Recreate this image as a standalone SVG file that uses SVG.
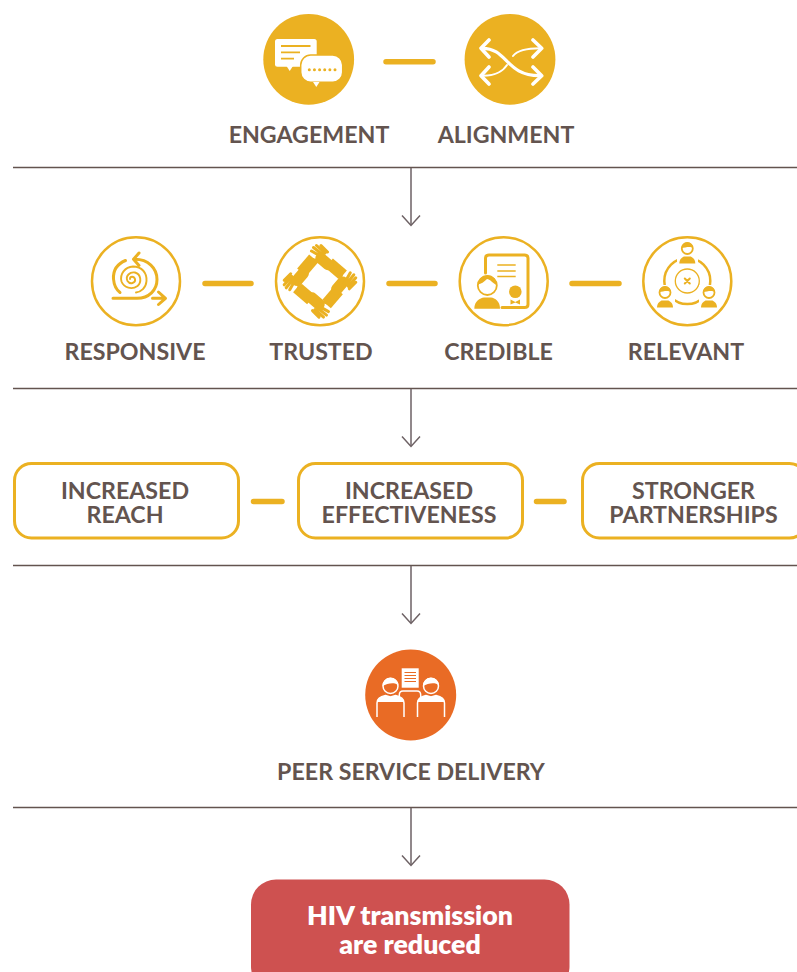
<svg xmlns="http://www.w3.org/2000/svg" width="797" height="972" viewBox="0 0 797 972">
<style>
text{font-family:"Lato","Liberation Sans",sans-serif;font-weight:700;fill:#63544f;text-anchor:middle;font-size:23.2px}
.hd{fill:#fff;font-size:26.700px;font-weight:800}
.rule{stroke:#63544f;stroke-width:1.3;fill:none}
.arr{stroke:#6e6265;stroke-width:1.500;fill:none}
.bar{stroke:#ebb122;stroke-width:5.5;stroke-linecap:round;fill:none}
.ring{fill:#fff;stroke:#ebb122;stroke-width:2.5}
.box{fill:#fff;stroke:#ebb122;stroke-width:3}
.y{fill:#ebb122}.w{fill:#fff}
.ly{stroke:#ebb122;fill:none;stroke-linecap:round;stroke-linejoin:round}
.lw{stroke:#fff;fill:none;stroke-linecap:round;stroke-linejoin:round}
.lo{stroke:#e96b25;fill:none}
</style>
<defs>
<path id="chev" class="arr" d="M-9 -10 0 0 9 -10"/>
<g id="hand">
<path d="M343 275 329 263" stroke="#ebb122" stroke-width="12" fill="none"/>
<path d="M327 262 319 255" stroke="#fff" stroke-width="14" fill="none"/>
<path d="M328 264.500 321 258.500" stroke="#ebb122" stroke-width="11.500" stroke-linecap="round" fill="none"/>
<path d="M322 257 311.500 251M323 255 313.500 247.500M325 253 316.500 245.500M327.500 252 321 245.500M320 262 312.500 259.500" class="ly" stroke-width="3"/>
</g>
<g id="person">
<circle cx="0" cy="0" r="5.500" fill="#fff" stroke="#ebb122" stroke-width="1.800"/>
<path d="M-5.800 -0.500A5.800 5.800 0 0 1 5.800 -0.500C3 -2.500 -2 -1 -5.800 -0.500Z" class="y"/>
<path d="M-8 15C-8 10-4 8-3 8H3C4 8 8 10 8 15Z" class="y"/>
</g>
<g id="po">
<circle cx="0" cy="0" r="7.500" fill="#e96b25" stroke="#fff" stroke-width="1.500"/>
<path d="M-8 0A8 8 0 0 1 8 -1C4 -4-3-3-8 0Z" class="w"/>
<path d="M-13.500 31V17C-13.500 12.500-10 10.500-5 9.500L0 11 5 9.500C10 10.500 13.500 12.500 13.500 17V31" fill="#e96b25" stroke="#fff" stroke-width="1.500"/>
<path d="M-13.500 16C-13.500 12.500-10 10.500-5 9.500L0 11 5 9.500C10 10.500 13.500 12.500 13.500 16Z" class="w"/>
</g>
</defs>
<g id="connectors">
<path class="rule" d="M13 167.500H797M13 388.500H797M13 565.500H797M13 807.500H797"/>
<path class="arr" d="M411 168V225M411 389V446M411 566V623M411 808V865"/>
<use href="#chev" x="411" y="225.500"/>
<use href="#chev" x="411" y="446.500"/>
<use href="#chev" x="411" y="623.500"/>
<use href="#chev" x="411" y="865.500"/>
<path class="bar" d="M386 61.700H433M205 283.500H251M389 283.500H435M572 283.500H619M253.500 501.500H282M536.500 501.500H564"/>
</g>
<g id="engagement">
<circle cx="308.700" cy="59.300" r="45.400" class="y"/>
<rect x="275" y="39" width="41.700" height="27.700" rx="2.500" class="w"/>
<path d="M286.500 66 289.700 71 293 66Z" class="w"/>
<path d="M281 46H310.500M281 52.300H300M281 58.700H294" stroke="#ebb122" stroke-width="1.800" fill="none"/>
<rect x="300.700" y="55" width="42" height="27.300" rx="10" class="w" stroke="#ebb122" stroke-width="1.500"/>
<path d="M313 82 316.300 87 319.500 82Z" class="w"/>
<path d="M309.300 69.700H335" stroke="#ebb122" stroke-width="3" stroke-linecap="round" stroke-dasharray="0 5.140" fill="none"/>
<text x="309" y="143">ENGAGEMENT</text>
</g>
<g id="alignment">
<circle cx="510" cy="59.300" r="45.400" class="y"/>
<path class="lw" stroke-width="3.600" d="M489 40 481 48.300 489 57M533 40 541.700 48.300 533 57M489 67 481 75.700 489 84M533 67 541.700 75.700 533 84"/>
<path class="lw" stroke-width="3.200" d="M482 48.300C508 48 505 76 540 75.700"/>
<path class="lw" stroke-width="2" d="M482 75.700C497 76 503 71 507 65M513 56C517 51 525 48.300 540 48.300"/>
<text x="506" y="143">ALIGNMENT</text>
</g>
<g id="responsive">
<circle cx="136" cy="281.300" r="44" class="ring"/>
<g class="ly" stroke-width="3">
<path d="M113 298.300H137C149 298.300 157 290 157 279.500 157 268 148 259.300 135 259.300"/>
<path d="M139 253 133.500 259.300 139 265.500"/>
<path d="M125.500 260.500C117 264 113 271 113.500 279 114 285 116 289.500 120 292.500"/>
<path d="M152.500 298.300H165M158.500 292 165.500 298.300 158.500 304.500"/>
</g>
<path class="ly" stroke-width="1.900" d="M130 279C130 276 134 276 135 279 136 283 130 285 127.500 281 125 276 130 271.500 135 272.500 141 274 142 282 137.500 286 132 290 124 288 121.500 281.500 119.500 274 125 267 133 266.500 142 266.500 147 273 146.500 281 146 288 141 292 136 292.500"/>
<text x="135" y="360">RESPONSIVE</text>
</g>
<g id="trusted">
<circle cx="320" cy="281.300" r="44" class="ring"/>
<use href="#hand"/>
<use href="#hand" transform="rotate(90 320 281.300)"/>
<use href="#hand" transform="rotate(180 320 281.300)"/>
<use href="#hand" transform="rotate(270 320 281.300)"/>
<text x="321" y="360">TRUSTED</text>
</g>
<g id="credible">
<circle cx="503.700" cy="281.300" r="44" class="ring"/>
<path class="ly" stroke-width="3" d="M485.500 273V258C485.500 256 487 255 489 255H524.500C526.500 255 528 256 528 258V304.500C528 306.500 526.500 307.500 524.500 307.500H502"/>
<path d="M497.300 265H515.700M497.300 271H515.700M497.300 276.500H515.700" stroke="#ebb122" stroke-width="1.500" fill="none"/>
<circle cx="487.300" cy="285.500" r="9.500" fill="#fff" stroke="#ebb122" stroke-width="1.800"/>
<path d="M478 284.500A9.500 9.500 0 0 1 497 285C492 283 490 279 487 279 484 282 481 284 478 284.500Z" class="y"/>
<path d="M474.300 308.700C474.300 301 480 298 484 297.500H491C495 298 500 301 500 308.700Z" class="y"/>
<circle cx="515.300" cy="291.700" r="6.300" class="y"/>
<path d="M510.500 299.500 515.300 302 520 299.500V304.500L515.300 302.500 510.500 304.500Z" class="y"/>
<text x="498.500" y="360">CREDIBLE</text>
</g>
<g id="relevant">
<circle cx="687.300" cy="281.300" r="44" class="ring"/>
<circle cx="687.300" cy="281" r="23" fill="none" stroke="#ebb122" stroke-width="2.500"/>
<circle cx="687.300" cy="281" r="12" fill="none" stroke="#ebb122" stroke-width="1.300"/>
<path class="ly" stroke-width="2" d="M684.800 278.500 689.800 283.500M689.800 278.500 684.800 283.500"/>
<rect x="677" y="240" width="21" height="24" fill="#fff"/><rect x="655" y="285" width="20" height="23" fill="#fff"/><rect x="699" y="285" width="20" height="23" fill="#fff"/>
<use href="#person" x="687.300" y="248.500"/>
<use href="#person" x="665" y="292.500"/>
<use href="#person" x="709" y="292.500"/>
<text x="686" y="360">RELEVANT</text>
</g>
<g id="increased-reach">
<rect x="14.500" y="463.500" width="224" height="74.500" rx="17" class="box"/>
<text x="125" y="498.500">INCREASED<tspan x="125" dy="24">REACH</tspan></text>
</g>
<g id="increased-effectiveness">
<rect x="298.500" y="463.500" width="224" height="74.500" rx="17" class="box"/>
<text x="409" y="498.500">INCREASED<tspan x="409" dy="24">EFFECTIVENESS</tspan></text>
</g>
<g id="stronger-partnerships">
<rect x="582.500" y="463.500" width="224" height="74.500" rx="17" class="box"/>
<text x="693.500" y="498.500">STRONGER<tspan x="693.500" dy="24">PARTNERSHIPS</tspan></text>
</g>
<g id="peer-service-delivery">
<circle cx="410.700" cy="695" r="45.500" fill="#e96b25"/>
<path d="M399.300 717V695C399.300 692.500 400.800 691 403 691H417C419.200 691 420.700 692.500 420.700 695V717" stroke="#fff" stroke-width="1.500" fill="none"/>
<rect x="401.700" y="668.300" width="17" height="19.400" class="w"/>
<path d="M404.500 672.500H416M404.500 675.500H416M404.500 678.500H416M404.500 681.500H416" class="lo" stroke-width="1"/>
<use href="#po" x="390.500" y="686"/>
<use href="#po" x="431" y="686"/>
<text x="411" y="780">PEER SERVICE DELIVERY</text>
</g>
<g id="hiv-transmission">
<rect x="251" y="879.500" width="318.500" height="112" rx="25" fill="#ce5150"/>
<text x="410" y="924.500" class="hd">HIV transmission<tspan x="410" dy="29">are reduced</tspan></text>
</g>
</svg>
